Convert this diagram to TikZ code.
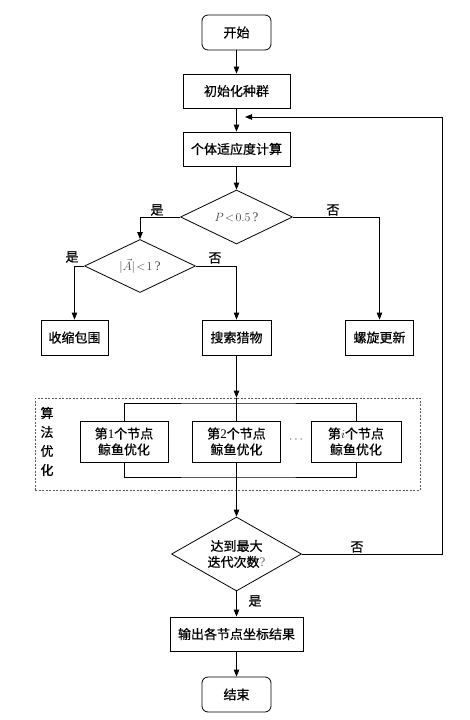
\documentclass[tikz,border=0pt]{standalone}
\usepackage{fontspec}
\setmainfont{Liberation Serif}
\newfontfamily\cjk[FakeBold=0.6]{Noto Sans CJK SC}
\usepackage{amsmath}
\usetikzlibrary{arrows.meta,shapes.geometric,positioning}

\begin{document}
\begin{tikzpicture}[x=1pt, y=-1pt, line width=0.8pt,
  font=\cjk\fontsize{13}{16}\selectfont,
  box/.style={draw, rectangle, inner sep=0pt, minimum height=34},
  term/.style={draw, rectangle, rounded corners=6pt, inner sep=0pt, minimum width=69, minimum height=35},
  cond/.style={draw, diamond, aspect=2, inner sep=0pt, align=center},
  worker/.style={draw, rectangle, inner sep=0pt, minimum height=41, align=center},
  arr/.style={-{Triangle[length=7pt,width=5.5pt]}}]
\useasboundingbox (0,0) rectangle (470,720);

\node[term] (start) at (236.5,32.5) {开始};
\node[box, minimum width=107] (init) at (236.5,91) {初始化种群};
\node[box, minimum width=107] (fit) at (236.5,149) {个体适应度计算};
\node[cond, minimum width=112, minimum height=54, text=black!75] (pq) at (236.5,217) {\rmfamily$P\!<\!0.5$\,?};
\node[cond, minimum width=111, minimum height=53, text=black!75] (aq) at (140,266) {\rmfamily$\lvert\vec{A}\rvert\!<\!1$\,?};
\node[box, minimum width=67, minimum height=35] (shrink) at (74.5,337.5) {收缩包围};
\node[box, minimum width=69, minimum height=35] (search) at (236.5,337.5) {搜索猎物};
\node[box, minimum width=68, minimum height=35] (spiral) at (379.5,337.5) {螺旋更新};

\node[draw, black!65, dash pattern=on 2pt off 1.5pt, line width=0.6pt, minimum width=385, minimum height=92] (frame) at (227.5,444) {};
\foreach \c [count=\k] in {算,法,优,化}
  \node (alg\k) at (47,394+19*\k) {\c};
\foreach \n/\x/\w/\t in {1/124/88/1, 2/236.5/88/2, 3/356/90/$i$}
  \node[worker, minimum width=\w] (w\n) at (\x,441.5) {第{\rmfamily\t}个节点\\鲸鱼优化};
\node[black!70] (dots) at (297,440) {$\cdots$};
\coordinate (busT) at (236.5,403);
\coordinate (busB) at (236.5,477);

\node[cond, minimum width=130, minimum height=74] (done) at (236.5,554) {达到最大\\迭代次数{\rmfamily\color{black!60}?}};
\node[box, minimum width=133] (out) at (236.5,634) {输出各节点坐标结果};
\node[term] (end) at (236.5,694.5) {结束};
\coordinate (loopR) at (442,117);
\coordinate (back) at (245,117);

\node (yes1) at (157,210) {是};
\node (no1) at (333,210) {否};
\node (yes2) at (72,257) {是};
\node (no2) at (215,258) {否};
\node (no3) at (357,547) {否};
\node (yes3) at (255,601) {是};

\draw[arr] (start) -- (init);
\draw[arr] (init) -- (fit);
\draw[arr] (fit) -- (pq);
\draw[arr] (pq.west) -| (aq.north);
\draw[arr] (pq.east) -| (spiral.north);
\draw[arr] (aq.west) -| (shrink.north);
\draw[arr] (aq.east) -| (search.north);
\draw[arr] (search.south) -- (search.south |- frame.north);
\draw (search.south |- frame.north) -- (busT);
\draw (w1.north) |- (busT) -| (w3.north);
\draw (busT) -- (w2.north);
\draw (w1.south) |- (busB) -| (w3.south);
\draw (w2.south) -- (busB);
\draw[arr] (busB) -- (done.north);
\draw[arr] (done.east) -| (loopR) -- (back);
\draw[arr] (done) -- (out);
\draw[arr] (out) -- (end);
\end{tikzpicture}
\end{document}
